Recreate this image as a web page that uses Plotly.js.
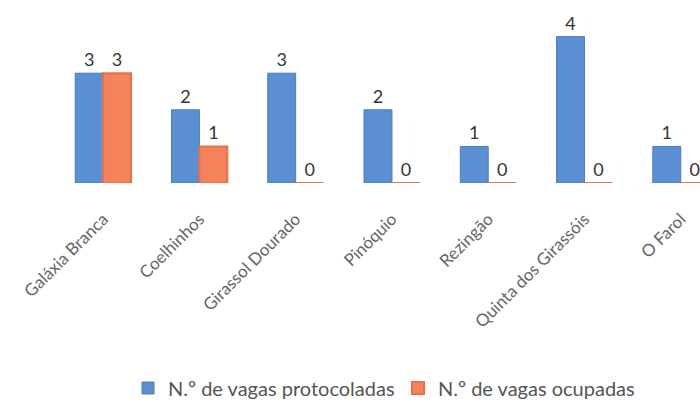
<!DOCTYPE html>
<html><head><meta charset="utf-8">
<script src="https://cdn.plot.ly/plotly-3.0.1.min.js"></script>
<style>html,body{margin:0;padding:0;background:#fff}#chart{width:700px;height:403px}</style>
</head><body><div id="chart"></div>
<script>
const categories = ["Galáxia Branca","Coelhinhos","Girassol Dourado","Pinóquio","Rezingão","Quinta dos Girassóis","O Farol"];
const protocoladas = [3,2,3,2,1,4,1];
const ocupadas = [3,1,0,0,0,0,0];
const seriesNames = ["N.º de vagas protocoladas","N.º de vagas ocupadas"];

const font = "Lato, 'Open Sans', sans-serif";
const traces = [
  {type:'bar', x:categories, y:protocoladas, name:seriesNames[0],
   marker:{color:'#5a8fd4', line:{color:'#4a7cc0', width:1}},
   text:protocoladas.map(String), textposition:'outside', cliponaxis:false,
   textfont:{family:font, size:18, color:'#333'}},
  {type:'bar', x:categories, y:ocupadas, name:seriesNames[1],
   marker:{color:'#f58258', line:{color:'#e8704a', width:2}},
   text:ocupadas.map(String), textposition:'outside', cliponaxis:false,
   textfont:{family:font, size:18, color:'#333'}}
];
const layout = {
  width:700, height:403,
  margin:{l:55, r:0, t:0, b:220, autoexpand:false},
  paper_bgcolor:'#fff', plot_bgcolor:'#fff',
  barmode:'group', bargap:0.42, bargroupgap:0,
  font:{family:font, size:17, color:'#555'},
  xaxis:{range:[-0.5,6.2], tickangle:-45, showline:false, showgrid:false, zeroline:false,
         ticks:'', ticklabelstandoff:22, tickfont:{family:font, size:17, color:'#666'}, automargin:false},
  yaxis:{range:[0,5], visible:false, showgrid:false, zeroline:false},
  showlegend:true,
  legend:{orientation:'h', xref:'container', yref:'container', x:128/700, xanchor:'left',
          y:(403-388)/403, yanchor:'middle',
          font:{family:font, size:20, color:'#555'}, entrywidth:225, traceorder:'normal'}
};
Plotly.newPlot('chart', traces, layout, {staticPlot:true});
</script></body></html>
